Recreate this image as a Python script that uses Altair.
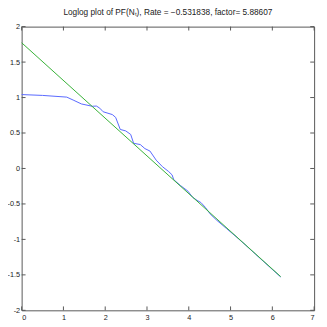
import altair as alt
import pandas as pd

# blue: measured loglog curve
blue_x = [0, 0.5, 1.08, 1.25, 1.43, 1.69, 1.79, 1.87, 1.95, 2.17, 2.25, 2.36, 2.49, 2.61,
          2.68, 2.84, 2.95, 3.07, 3.22, 3.37, 3.52, 3.60, 3.64, 3.8, 3.98, 4.03, 4.10, 4.2,
          4.29, 4.4, 4.51, 4.67, 4.90, 5.13, 5.35, 5.6, 5.9, 6.2]
blue_y = [1.042, 1.03, 1.006, 0.96, 0.91, 0.877, 0.88, 0.85, 0.80, 0.76, 0.72, 0.55, 0.53,
          0.48, 0.355, 0.337, 0.28, 0.246, 0.117, 0.025, -0.044, -0.09, -0.158, -0.24, -0.32,
          -0.36, -0.41, -0.45, -0.48, -0.55, -0.64, -0.73, -0.845, -0.96, -1.075, -1.21,
          -1.37, -1.53]

# green: fitted line endpoints
green_x = [0, 6.2]
green_y = [1.7726, -1.5248]

x_ticks = [0, 1, 2, 3, 4, 5, 6, 7]
y_ticks = [-2, -1.5, -1, -0.5, 0, 0.5, 1, 1.5, 2]

title = "Loglog plot of PF(N\u209c), Rate = \u22120.531838, factor= 5.88607"

W, H = 300, 291
TL = 4

df_blue = pd.DataFrame({"x": blue_x, "y": blue_y})
df_green = pd.DataFrame({"x": green_x, "y": green_y})
df_xt = pd.DataFrame({"x": x_ticks})
df_yt = pd.DataFrame({"y": y_ticks})

xs = alt.Scale(domain=[0, 7], nice=False, zero=False)
ys = alt.Scale(domain=[-2, 2], nice=False, zero=False)
xa = alt.Axis(values=x_ticks, ticks=False, grid=False, domain=False, title=None,
              labelPadding=3, labelExpr="'' + datum.value")
ya = alt.Axis(values=y_ticks, ticks=False, grid=False, domain=False, title=None,
              labelPadding=2, labelExpr="'' + datum.value")

X = alt.X("x:Q", scale=xs, axis=xa)
Y = alt.Y("y:Q", scale=ys, axis=ya)

green = alt.Chart(df_green).mark_line(color="#33b033", strokeWidth=1).encode(x=X, y=Y)
blue = alt.Chart(df_blue).mark_line(color="#5566ff", strokeWidth=1).encode(x=X, y=Y)

tick_color = "#555555"
bt = alt.Chart(df_xt).mark_rule(color=tick_color, strokeWidth=1).encode(
    x=X, y=alt.value(H), y2=alt.value(H - TL))
tt = alt.Chart(df_xt).mark_rule(color=tick_color, strokeWidth=1).encode(
    x=X, y=alt.value(0), y2=alt.value(TL))
lt = alt.Chart(df_yt).mark_rule(color=tick_color, strokeWidth=1).encode(
    y=Y, x=alt.value(0), x2=alt.value(TL))
rt = alt.Chart(df_yt).mark_rule(color=tick_color, strokeWidth=1).encode(
    y=Y, x=alt.value(W), x2=alt.value(W - TL))

chart = alt.layer(bt, tt, lt, rt, blue, green).properties(
    width=W, height=H,
    title=alt.TitleParams(title, fontSize=8.5, fontWeight="normal", font="Liberation Sans",
                          color="#222222", offset=6),
    autosize=alt.AutoSizeParams(type="none"),
    padding={"left": 14, "top": 15, "right": 5, "bottom": 13},
).configure_view(stroke=tick_color, strokeWidth=1).configure_axis(
    labelFont="Liberation Sans", labelFontSize=7.5, labelColor="#222222"
)

chart.save("out.html", embed_options={"renderer": "svg", "actions": False})
